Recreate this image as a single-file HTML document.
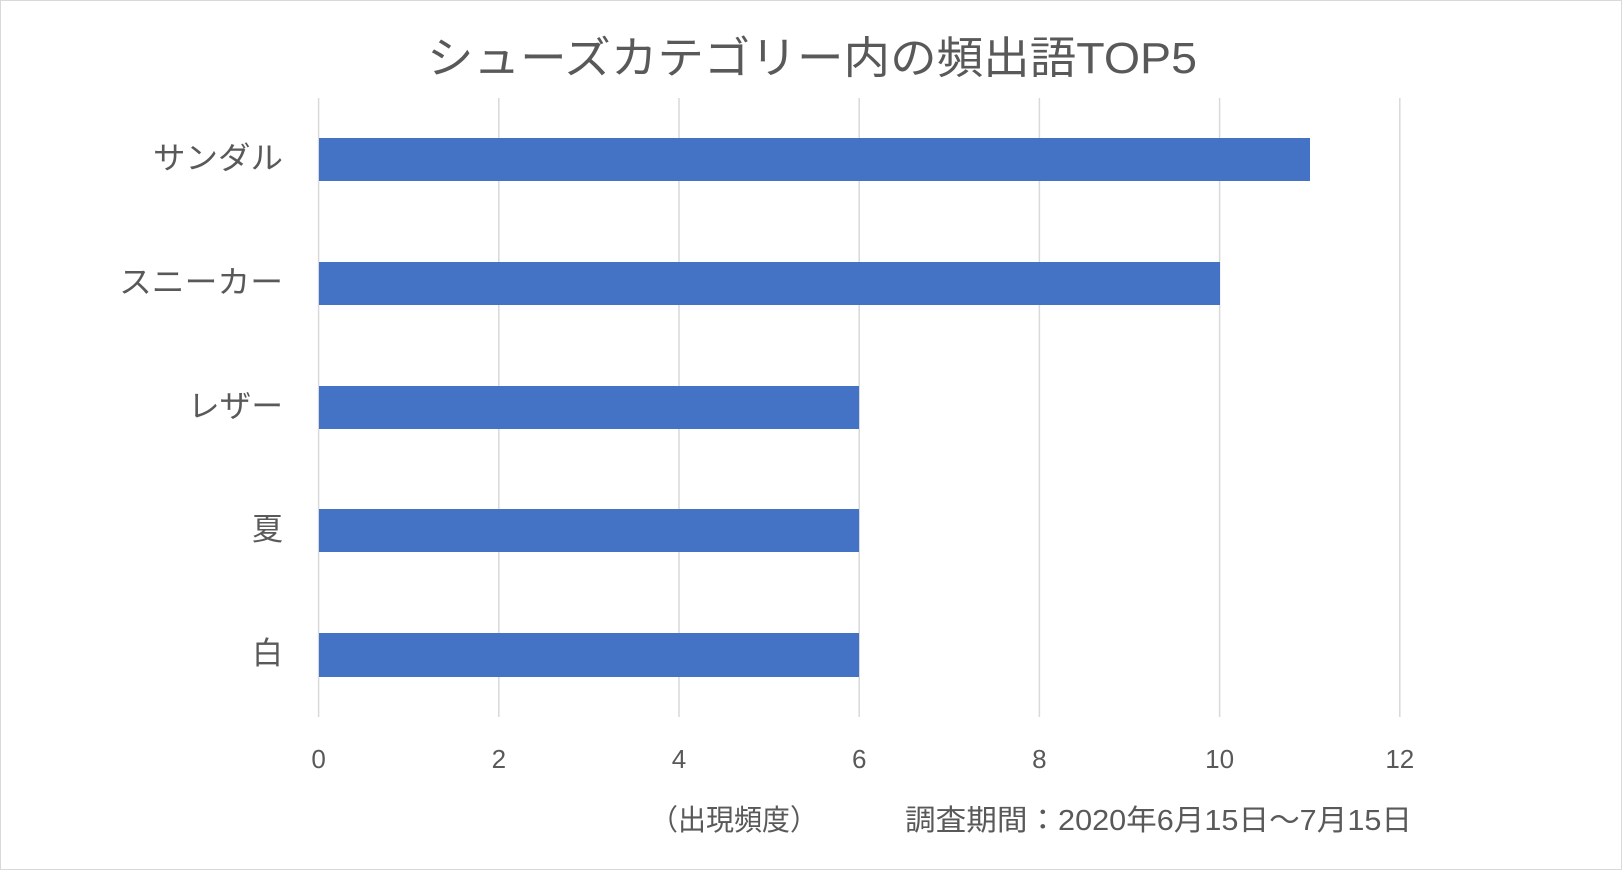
<!DOCTYPE html>
<html><head><meta charset="utf-8"><style>
body{margin:0;background:#fff}
svg text{font-family:"Liberation Sans","Noto Sans CJK JP",sans-serif;fill:#595959}
</style></head><body>
<svg width="1622" height="870" xmlns="http://www.w3.org/2000/svg">
<rect x="0.5" y="0.5" width="1621" height="869" fill="#fff" stroke="#d9d9d9"/>
<text x="427" y="73" font-size="44" textLength="770" lengthAdjust="spacingAndGlyphs">シューズカテゴリー内の頻出語TOP5</text>
<g stroke="#d9d9d9" stroke-width="1.5">
<line x1="318.6" y1="98" x2="318.6" y2="717"/>
<line x1="498.8" y1="98" x2="498.8" y2="717"/>
<line x1="679" y1="98" x2="679" y2="717"/>
<line x1="859.2" y1="98" x2="859.2" y2="717"/>
<line x1="1039.4" y1="98" x2="1039.4" y2="717"/>
<line x1="1219.6" y1="98" x2="1219.6" y2="717"/>
<line x1="1399.8" y1="98" x2="1399.8" y2="717"/>
</g>
<g fill="#4472c4">
<rect x="319" y="138" width="991" height="43"/>
<rect x="319" y="262" width="901" height="43"/>
<rect x="319" y="386" width="540" height="43"/>
<rect x="319" y="509" width="540" height="43"/>
<rect x="319" y="633" width="540" height="44"/>
</g>
<g font-size="31">
<text x="153" y="169" textLength="130" lengthAdjust="spacingAndGlyphs">サンダル</text>
<text x="119" y="293" textLength="164" lengthAdjust="spacingAndGlyphs">スニーカー</text>
<text x="188" y="417" textLength="95" lengthAdjust="spacingAndGlyphs">レザー</text>
<text x="252" y="540">夏</text>
<text x="252" y="664">白</text>
</g>
<g font-size="26" text-anchor="middle">
<text x="318.6" y="768">0</text>
<text x="498.8" y="768">2</text>
<text x="679" y="768">4</text>
<text x="859.2" y="768">6</text>
<text x="1039.4" y="768">8</text>
<text x="1219.6" y="768">10</text>
<text x="1399.8" y="768">12</text>
</g>
<text x="650" y="830" font-size="29" textLength="168" lengthAdjust="spacingAndGlyphs">（出現頻度）</text>
<text x="905" y="830" font-size="29" textLength="507" lengthAdjust="spacingAndGlyphs">調査期間：2020年6月15日〜7月15日</text>
</svg>
</body></html>
